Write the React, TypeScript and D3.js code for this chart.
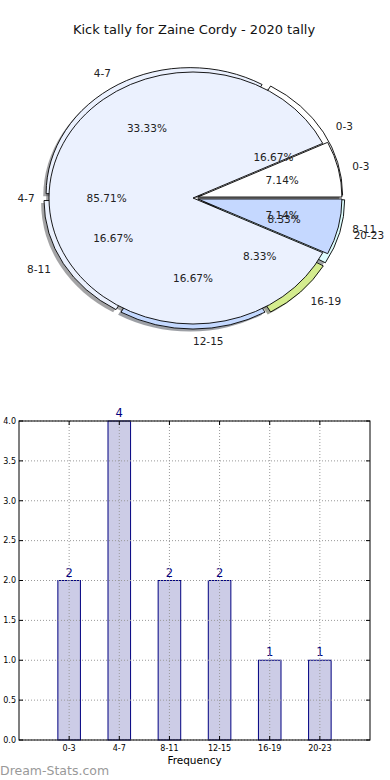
import { pie, arc, scaleLinear, color } from "d3";

const W = 390;
const H = 780;
const FONT = "DejaVu Sans, sans-serif";

// pie data
const binLabels = ["0-3", "4-7", "8-11", "12-15", "16-19", "20-23"];
const binCounts = [2, 4, 2, 2, 1, 1];
const binColors = ["#ffffff", "#ebf1fe", "#ebf1fe", "#c4d9ff", "#d4ec8e", "#ddfdfe"];

const splitLabels = ["0-3", "4-7", "8-11"];
const splitCounts = [1, 12, 1];
const splitColors = ["#ffffff", "#ebf1fe", "#c5d8ff"];

// bar chart ticks
const yTicks = [0, 0.5, 1, 1.5, 2, 2.5, 3, 3.5, 4];

const CX = 193;
const CY = 198;
const RX = 144;
const RY = 126;

const unitArc = arc<any>().innerRadius(0).outerRadius(1);

type Wedge = { label: string; value: number; color: string; t1: number; t2: number; tm: number; ex: number };

function buildWedges(labels: string[], values: number[], colors: string[], explode: number[]): Wedge[] {
  const arcs = pie<number>().sort(null)(values);
  return arcs.map((a, i) => ({
    label: labels[i],
    value: values[i],
    color: colors[i],
    t1: a.startAngle,
    t2: a.endAngle,
    tm: (a.startAngle + a.endAngle) / 2,
    ex: explode[i],
  }));
}

function wedgePath(w: Wedge) {
  // matplotlib angles run ccw from 3 o'clock, d3 runs cw from 12
  return unitArc({ startAngle: Math.PI / 2 - w.t2, endAngle: Math.PI / 2 - w.t1 }) as string;
}

function center(w: Wedge) {
  return [CX + w.ex * RX * Math.cos(w.tm), CY - w.ex * RY * Math.sin(w.tm)];
}

function shadowColor(c: string) {
  const k = color(c)!.rgb();
  return `rgb(${k.r * 0.3},${k.g * 0.3},${k.b * 0.3})`;
}

const outer = buildWedges(binLabels, binCounts, binColors, [0.045, 0.04, 0.04, 0.04, 0.055, 0.055]);
const inner = buildWedges(splitLabels, splitCounts, splitColors, [0.035, 0, 0.035]);

function WedgeShape({ w, shadow }: { w: Wedge; shadow?: boolean }) {
  const [x, y] = center(w);
  const dx = shadow ? -0.02 * RX : 0;
  const dy = shadow ? 0.02 * RY : 0;
  return (
    <path
      transform={`translate(${x + dx},${y + dy}) scale(${RX},${RY})`}
      d={wedgePath(w)}
      fill={shadow ? shadowColor(w.color) : w.color}
      fillOpacity={shadow ? 0.5 : 1}
      stroke={shadow ? "none" : "#000"}
      strokeWidth={0.9}
      vectorEffect="non-scaling-stroke"
    />
  );
}

function WedgeText({ w, total }: { w: Wedge; total: number }) {
  const [x, y] = center(w);
  const c = Math.cos(w.tm);
  const s = Math.sin(w.tm);
  const lx = x + 1.1 * RX * c;
  const ly = y - 1.1 * RY * s;
  const px = x + 0.6 * RX * c;
  const py = y - 0.6 * RY * s;
  return (
    <g fontFamily={FONT} fontSize={10.5} fill="#222">
      <text x={lx} y={ly} dy="0.35em" textAnchor={c > -1e-9 ? "start" : "end"}>
        {w.label}
      </text>
      <text x={px} y={py} dy="0.35em" textAnchor="middle">
        {((100 * w.value) / total).toFixed(2)}%
      </text>
    </g>
  );
}

function PieChart() {
  const t1 = binCounts.reduce((a, b) => a + b, 0);
  const t2 = splitCounts.reduce((a, b) => a + b, 0);
  return (
    <g>
      {outer.map((w, i) => <WedgeShape key={"s1" + i} w={w} shadow />)}
      {inner.map((w, i) => <WedgeShape key={"s2" + i} w={w} shadow />)}
      {outer.map((w, i) => <WedgeShape key={"w1" + i} w={w} />)}
      {inner.map((w, i) => <WedgeShape key={"w2" + i} w={w} />)}
      {outer.map((w, i) => <WedgeText key={"t1" + i} w={w} total={t1} />)}
      {inner.map((w, i) => <WedgeText key={"t2" + i} w={w} total={t2} />)}
    </g>
  );
}

const BX0 = 19;
const BX1 = 370;
const BY0 = 421;
const BY1 = 740;

function BarChart() {
  const x = scaleLinear().domain([-1, binLabels.length]).range([BX0, BX1]);
  const y = scaleLinear().domain([0, 4]).range([BY1, BY0]);
  const bw = x(0.45) - x(0);
  return (
    <g fontFamily={FONT}>
      <rect x={BX0} y={BY0} width={BX1 - BX0} height={BY1 - BY0} fill="#fff" />
      {binCounts.map((v, i) => (
        <g key={i}>
          <rect
            x={x(i) - bw / 2}
            y={y(v)}
            width={bw}
            height={y(0) - y(v)}
            fill="rgba(0,0,128,0.2)"
            stroke="#000080"
            strokeWidth={1}
          />
          <text x={x(i)} y={y(v) - 4} textAnchor="middle" fontSize={11.5} fill="#000080">
            {v}
          </text>
        </g>
      ))}
      {/* grid */}
      {yTicks.map((t) => (
        <line key={"gy" + t} x1={BX0} x2={BX1} y1={y(t)} y2={y(t)} stroke="#999" strokeWidth={1} strokeDasharray="1,2" />
      ))}
      {binLabels.map((_, i) => (
        <line key={"gx" + i} x1={x(i)} x2={x(i)} y1={BY0} y2={BY1} stroke="#999" strokeWidth={1} strokeDasharray="1,2" />
      ))}
      {/* ticks */}
      {yTicks.map((t) => (
        <g key={"ty" + t}>
          <line x1={BX0} x2={BX0 + 4} y1={y(t)} y2={y(t)} stroke="#000" />
          <line x1={BX1 - 4} x2={BX1} y1={y(t)} y2={y(t)} stroke="#000" />
          <text x={BX0 - 3} y={y(t)} dy="0.35em" textAnchor="end" fontSize={8} fill="#000">
            {t.toFixed(1)}
          </text>
        </g>
      ))}
      {binLabels.map((l, i) => (
        <g key={"tx" + i}>
          <line x1={x(i)} x2={x(i)} y1={BY1} y2={BY1 - 4} stroke="#000" />
          <line x1={x(i)} x2={x(i)} y1={BY0} y2={BY0 + 4} stroke="#000" />
          <text x={x(i)} y={BY1 + 11} textAnchor="middle" fontSize={8} fill="#000">
            {l}
          </text>
        </g>
      ))}
      <rect x={BX0} y={BY0} width={BX1 - BX0} height={BY1 - BY0} fill="none" stroke="#000" strokeWidth={1} />
      <text x={(BX0 + BX1) / 2} y={764} textAnchor="middle" fontSize={10.5} fill="#000">
        Frequency
      </text>
    </g>
  );
}

export default function App() {
  return (
    <svg
      width={W}
      height={H}
      viewBox={`0 0 ${W} ${H}`}
      style={{ position: "absolute", left: 0, top: 0, background: "#fff" }}
    >
      <rect width={W} height={H} fill="#fff" />
      <text x={194} y={34} textAnchor="middle" fontFamily={FONT} fontSize={13} fill="#111">
        Kick tally for Zaine Cordy - 2020 tally
      </text>
      <PieChart />
      <BarChart />
      <text x={0} y={775} fontFamily={FONT} fontSize={12.5} fill="#999">
        Dream-Stats.com
      </text>
    </svg>
  );
}
